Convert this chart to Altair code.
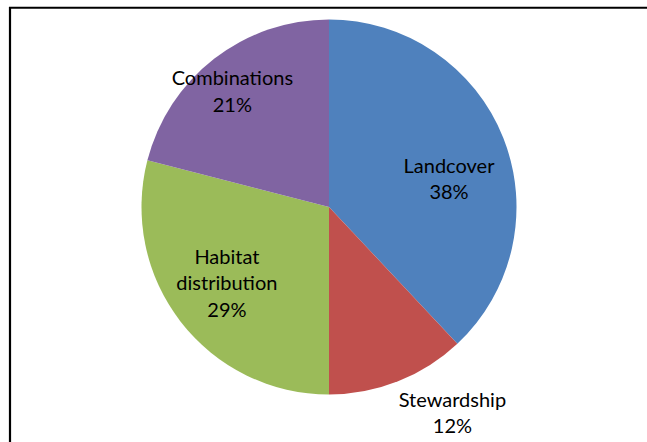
import altair as alt
import pandas as pd

# ---- data ----
categories = ["Landcover", "Stewardship", "Habitat distribution", "Combinations"]
label_text = ["Landcover", "Stewardship", "Habitat\ndistribution", "Combinations"]
shares = [38, 12, 29, 21]

# ---- styling / layout ----
colors = ["#4F81BD", "#C0504D", "#9BBB59", "#8064A2"]
W, H = 647, 442          # whole view
CX, CY = 329, 207        # pie centre
PIE_R = 187.5
FONT = "Lato"
FONT_SIZE = 20
LINE_H = 26.5
label_radius = [123, 241, 128, 150]      # px from centre
label_nudge = [8.9, -9.2, 0.7, -2.3]     # degrees from slice middle

df = pd.DataFrame({
    "category": categories,
    "label": label_text,
    "share": shares,
    "order": list(range(len(categories))),
})

base = alt.Chart(df)

arcs = base.mark_arc(radius=PIE_R).encode(
    theta=alt.Theta("share:Q", stack=True),
    color=alt.Color("category:N", scale=alt.Scale(domain=categories, range=colors), legend=None),
    order=alt.Order("order:Q"),
    x=alt.value(CX),
    y=alt.value(CY),
)

rad_expr = "[" + ",".join(str(v) for v in label_radius) + "][datum.order]"
nudge_expr = "[" + ",".join(str(v) for v in label_nudge) + "][datum.order]"

labels = (
    base.transform_joinaggregate(total="sum(share)")
    .transform_window(cum="sum(share)", sort=[alt.SortField("order")], frame=[None, 0])
    .transform_calculate(
        ang=f"((datum.cum - datum.share/2) / datum.total * 360 + {nudge_expr}) * PI / 180",
        rr=rad_expr,
        txt="datum.label + '\\n' + format(datum.share / datum.total, '.0%')",
    )
    .transform_calculate(
        nl="length(split(datum.txt, '\\n'))",
    )
    .transform_calculate(
        lx=f"{CX} + datum.rr * sin(datum.ang)",
        ly=f"{CY} - datum.rr * cos(datum.ang) - (datum.nl - 1) * {LINE_H} / 2",
    )
    .mark_text(font=FONT, fontSize=FONT_SIZE, lineBreak="\n", lineHeight=LINE_H,
               align="center", baseline="middle", color="#000000")
    .encode(
        x=alt.X("lx:Q", scale=None),
        y=alt.Y("ly:Q", scale=None),
        text="txt:N",
    )
)

frame_df = pd.DataFrame({"a": [0]})
left_line = alt.Chart(frame_df).mark_rule(color="#000000", strokeWidth=2.2).encode(
    x=alt.value(10), y=alt.value(7), y2=alt.value(470)
)
top_line = alt.Chart(frame_df).mark_rule(color="#000000", strokeWidth=2).encode(
    x=alt.value(9), x2=alt.value(700), y=alt.value(7.8)
)

chart = (
    alt.layer(arcs, labels, left_line, top_line)
    .properties(width=W, height=H, autosize=alt.AutoSizeParams(type="none"), padding=0,
                background="#ffffff")
    .configure_view(strokeWidth=0)
)

chart.save("out.html", embed_options={"renderer": "svg", "actions": False})
